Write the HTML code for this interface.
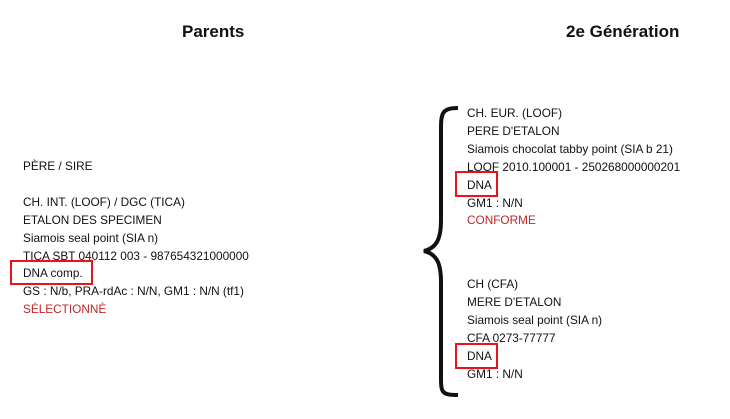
<!DOCTYPE html>
<html><head><meta charset="utf-8"><style>
body{margin:0;width:730px;height:419px;background:#fff;position:relative;overflow:hidden;font-family:"Liberation Sans",sans-serif;color:#111}
.t{position:absolute;font-weight:bold;font-size:17px;top:22px}
.b{position:absolute;font-size:11.8px;line-height:17.9px}
.r{color:#c0262b}
.box{position:absolute;border:2px solid #e8141a;box-sizing:border-box}
</style></head><body>
<div class="t" style="left:182px">Parents</div>
<div class="t" style="left:566px">2e Génération</div>
<div class="b" style="left:23px;top:158px">PÈRE / SIRE<br><br>CH. INT. (LOOF) / DGC (TICA)<br>ETALON DES SPECIMEN<br>Siamois seal point (SIA n)<br>TICA SBT 040112 003 - 987654321000000<br>DNA comp.<br>GS : N/b, PRA-rdAc : N/N, GM1 : N/N (tf1)<br><span class="r">SÉLECTIONNÉ</span></div>
<div class="box" style="left:10px;top:260px;width:83px;height:25px"></div>
<div class="b" style="left:467px;top:105px">CH. EUR. (LOOF)<br>PERE D'ETALON<br>Siamois chocolat tabby point (SIA b 21)<br>LOOF 2010.100001 - 250268000000201<br>DNA<br>GM1 : N/N<br><span class="r">CONFORME</span></div>
<div class="box" style="left:455px;top:171px;width:43px;height:26px"></div>
<div class="b" style="left:467px;top:276px">CH (CFA)<br>MERE D'ETALON<br>Siamois seal point (SIA n)<br>CFA 0273-77777<br>DNA<br>GM1 : N/N</div>
<div class="box" style="left:455px;top:343px;width:43px;height:26px"></div>
<svg style="position:absolute;left:0;top:0" width="730" height="419">
<path d="M458,108 C440,108 441,115 441,135 L441,220 C441,240 436,248 424,251 C436,254 441,262 441,282 L441,372 C441,392 440,395 458,395" fill="none" stroke="#111" stroke-width="4"/>
</svg>
</body></html>
